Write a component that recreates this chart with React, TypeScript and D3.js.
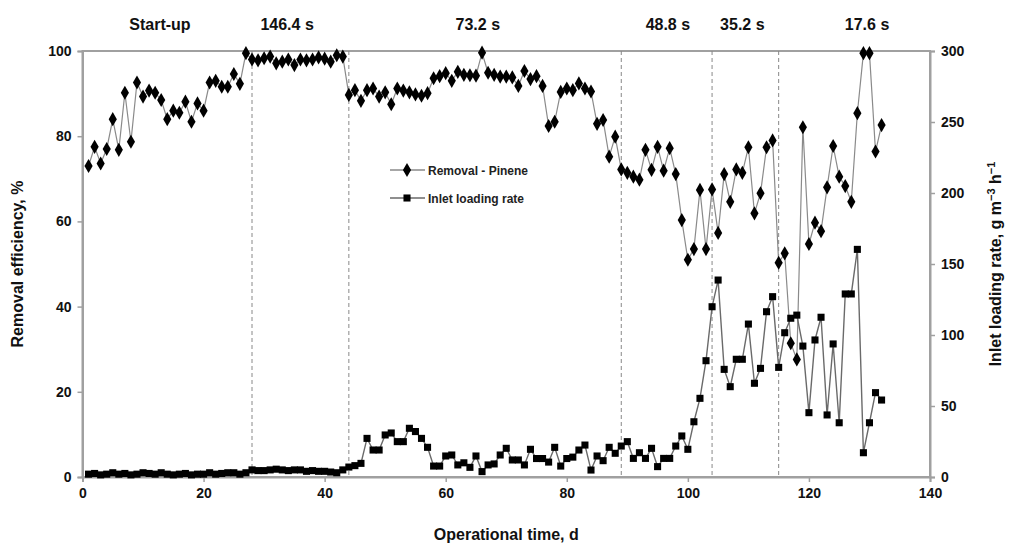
import React, { useEffect, useRef } from 'react';
import * as d3 from 'd3';

// operational day of each sample
const days = [
  1, 2, 3, 4, 5, 6, 7, 8, 9, 10, 11, 12, 13, 14, 15, 16, 17, 18, 19, 20,
  21, 22, 23, 24, 25, 26, 27, 28, 29, 30, 31, 32, 33, 34, 35, 36, 37, 38, 39, 40,
  41, 42, 43, 44, 45, 46, 47, 48, 49, 50, 51, 52, 53, 54, 55, 56, 57, 58, 59, 60,
  61, 62, 63, 64, 65, 66, 67, 68, 69, 70, 71, 72, 73, 74, 75, 76, 77, 78, 79, 80,
  81, 82, 83, 84, 85, 86, 87, 88, 89, 90, 91, 92, 93, 94, 95, 96, 97, 98, 99, 100,
  101, 102, 103, 104, 105, 106, 107, 108, 109, 110, 111, 112, 113, 114, 115, 116, 117, 118, 119, 120,
  121, 122, 123, 124, 125, 126, 127, 128, 129, 130, 131, 132
];

// removal efficiency, %
const removal = [
  73, 77.5, 73.6, 77, 84, 76.8, 90.2, 78.7, 92.6, 89.3, 90.7, 90.2, 88.5, 84, 86, 85.5, 88.1, 83.4, 87.7, 86,
  92.6, 93, 91.6, 91.6, 94.6, 92.3, 99.5, 98, 97.8, 98.3, 98.7, 97.1, 97.5, 98, 96.7, 98, 97.8, 98, 98.5, 98.2,
  97.5, 99, 98.7, 89.7, 90.8, 88.3, 90.8, 91.2, 89.3, 90.3, 87.5, 91.2, 90.7, 90.3, 89.8, 89.5, 90.1, 93.6, 94.1, 94.8,
  93, 95.1, 94.4, 94.3, 94.2, 99.6, 94.9, 94.4, 94, 94, 93.8, 91.8, 95.3, 93.4, 94.1, 91.8, 82.4, 83.4, 90.4, 91.2,
  90.8, 92.4, 91.2, 90.5, 82.9, 83.8, 75.2, 79.9, 72.2, 71.4, 70.5, 69.8, 76.8, 72.1, 77.5, 71.9, 77.2, 71.1, 60.3, 51,
  53.5, 67.4, 53.5, 67.5, 57.3, 71.1, 64.6, 72.2, 71.4, 77.4, 61.9, 66.6, 77.4, 79, 50.3, 52.5, 31.4, 27.6, 82.1, 54.7,
  59.7, 57.7, 68, 77.7, 70.5, 68.3, 64.6, 85.4, 99.5, 99.5, 76.4, 82.6
];

// inlet loading rate, g m-3 h-1
const loading = [
  2, 2.5, 1.5, 2, 3, 2, 2.5, 1.5, 2, 3, 2.5, 2, 3, 2, 1.5, 2, 2.5, 1.5, 2, 2,
  3, 2, 2.5, 3, 3, 2, 3, 5, 4.5, 4.5, 5, 5.5, 5, 4.5, 5, 5, 4, 4.5, 4, 4,
  3.5, 3, 5, 7, 8, 9.6, 27.2, 19, 19, 29.6, 31, 24.9, 24.9, 34.3, 32, 27.2, 20.9, 7.7, 7.7, 14.8,
  15.5, 8.5, 10, 6.8, 14.8, 3.8, 8.5, 9.2, 15.5, 20.2, 12, 12, 8.5, 19.5, 13, 13, 10.5, 20.9, 7.7, 13,
  14, 19, 22.5, 4.9, 14.8, 11.5, 20.9, 16.7, 21.8, 24.9, 13.1, 17.1, 13.1, 20.2, 7.3, 13.1, 13.1, 21.8, 28.9, 19.5,
  38.9, 55.4, 81.9, 119.9, 138.7, 75.8, 63.6, 82.9, 82.9, 107.7, 66, 76.5, 116.4, 127, 77.2, 101.6, 111.8, 114, 92.2, 45.3,
  96.5, 112.5, 43.7, 93.7, 38.2, 128.9, 128.9, 160.3, 17.1, 38.2, 59.4, 54.2
];

// phase boundaries (day) and retention-time labels
const phaseBreaks = [28, 44, 89, 104, 115];
const phaseLabels = ['Start-up', '146.4 s', '73.2 s', '48.8 s', '35.2 s', '17.6 s'];
const phaseLabelDays = [12.8, 33.8, 65.3, 96.7, 109, 129.6];

const xTicks = [0, 20, 40, 60, 80, 100, 120, 140];
const yTicks = [0, 20, 40, 60, 80, 100];
const y2Ticks = [0, 50, 100, 150, 200, 250, 300];

const legendNames = ['Removal - Pinene', 'Inlet loading rate'];

const FONT = '"Liberation Sans", Arial, sans-serif';

const App = () => {
  const ref = useRef(null);

  useEffect(() => {
    const svg = d3.select(ref.current);
    svg.selectAll('*').remove();

    const left = 82.5, right = 930, top = 51, bottom = 477;

    const x = d3.scaleLinear().domain([0, 140]).range([left, right]);
    const y = d3.scaleLinear().domain([0, 100]).range([bottom, top]);
    const y2 = d3.scaleLinear().domain([0, 300]).range([bottom, top]);

    const axisColor = '#a0a0a0';

    // frame
    svg.append('rect')
      .attr('x', left).attr('y', top)
      .attr('width', right - left).attr('height', bottom - top)
      .attr('fill', 'none').attr('stroke', axisColor).attr('stroke-width', 2);

    // phase separators
    svg.selectAll('.sep')
      .data(phaseBreaks)
      .enter().append('line')
      .attr('x1', d => x(d)).attr('x2', d => x(d))
      .attr('y1', top).attr('y2', bottom)
      .attr('stroke', '#888')
      .attr('stroke-width', 1)
      .attr('stroke-dasharray', '4,3');

    const styleAxis = g => {
      g.select('.domain').attr('stroke', axisColor).attr('stroke-width', 2);
      g.selectAll('.tick line').attr('stroke', axisColor).attr('stroke-width', 1.5);
      g.selectAll('.tick text')
        .attr('font-family', FONT)
        .attr('font-weight', 'bold')
        .attr('font-size', 14)
        .attr('fill', '#111');
    };

    svg.append('g')
      .attr('transform', `translate(0,${bottom})`)
      .call(d3.axisBottom(x).tickValues(xTicks).tickSize(5).tickPadding(6))
      .call(styleAxis);

    svg.append('g')
      .attr('transform', `translate(${left},0)`)
      .call(d3.axisLeft(y).tickValues(yTicks).tickSize(5).tickPadding(6))
      .call(styleAxis);

    svg.append('g')
      .attr('transform', `translate(${right},0)`)
      .call(d3.axisRight(y2).tickValues(y2Ticks).tickSize(5).tickPadding(6))
      .call(styleAxis);

    const removalData = days.map((d, i) => ({ day: d, v: removal[i] }));
    const loadingData = days.map((d, i) => ({ day: d, v: loading[i] }));

    const line1 = d3.line().x(d => x(d.day)).y(d => y(d.v));
    const line2 = d3.line().x(d => x(d.day)).y(d => y2(d.v));

    svg.append('path')
      .attr('d', line1(removalData))
      .attr('fill', 'none').attr('stroke', '#8a8a8a').attr('stroke-width', 1.2);
    svg.append('path')
      .attr('d', line2(loadingData))
      .attr('fill', 'none').attr('stroke', '#6a6a6a').attr('stroke-width', 1.4);

    const diamond = d3.symbol().type(d3.symbolDiamond).size(58);
    const square = d3.symbol().type(d3.symbolSquare).size(50);

    svg.selectAll('.rem')
      .data(removalData)
      .enter().append('path')
      .attr('transform', d => `translate(${x(d.day)},${y(d.v)})`)
      .attr('d', diamond)
      .attr('fill', '#000');

    svg.selectAll('.load')
      .data(loadingData)
      .enter().append('path')
      .attr('transform', d => `translate(${x(d.day)},${y2(d.v)})`)
      .attr('d', square)
      .attr('fill', '#000');

    // phase labels
    svg.selectAll('.phase')
      .data(phaseLabels)
      .enter().append('text')
      .attr('x', (d, i) => x(phaseLabelDays[i]))
      .attr('y', 30)
      .attr('text-anchor', 'middle')
      .attr('font-family', FONT)
      .attr('font-weight', 'bold')
      .attr('font-size', 16)
      .attr('fill', '#111')
      .text(d => d);

    // legend
    const legend = svg.append('g').attr('transform', 'translate(390,170)');
    legendNames.forEach((name, i) => {
      const row = legend.append('g').attr('transform', `translate(0,${i * 28})`);
      row.append('line')
        .attr('x1', 0).attr('x2', 35).attr('y1', 0).attr('y2', 0)
        .attr('stroke', i === 0 ? '#8a8a8a' : '#6a6a6a').attr('stroke-width', 1.4);
      row.append('path')
        .attr('transform', 'translate(17,0)')
        .attr('d', i === 0 ? diamond : square)
        .attr('fill', '#000');
      row.append('text')
        .attr('x', 38).attr('y', 4.5)
        .attr('font-family', FONT)
        .attr('font-weight', 'bold')
        .attr('font-size', 12)
        .attr('fill', '#222')
        .text(name);
    });

    // axis titles
    svg.append('text')
      .attr('x', (left + right) / 2).attr('y', 540)
      .attr('text-anchor', 'middle')
      .attr('font-family', FONT).attr('font-weight', 'bold').attr('font-size', 16)
      .attr('fill', '#111')
      .text('Operational time, d');

    svg.append('text')
      .attr('transform', `translate(23,${(top + bottom) / 2}) rotate(-90)`)
      .attr('text-anchor', 'middle')
      .attr('font-family', FONT).attr('font-weight', 'bold').attr('font-size', 16)
      .attr('fill', '#111')
      .text('Removal efficiency, %');

    const t2 = svg.append('text')
      .attr('transform', `translate(1001,${(top + bottom) / 2}) rotate(-90)`)
      .attr('text-anchor', 'middle')
      .attr('font-family', FONT).attr('font-weight', 'bold').attr('font-size', 16)
      .attr('fill', '#111');
    t2.append('tspan').text('Inlet loading rate, g m');
    t2.append('tspan').attr('dy', -6).attr('font-size', 11).text('\u22123');
    t2.append('tspan').attr('dy', 6).text(' h');
    t2.append('tspan').attr('dy', -6).attr('font-size', 11).text('\u22121');
  }, []);

  return (
    <svg
      ref={ref}
      width={1009}
      height={547}
      style={{ position: 'absolute', left: 0, top: 0, background: '#fff' }}
    />
  );
};

export default App;
